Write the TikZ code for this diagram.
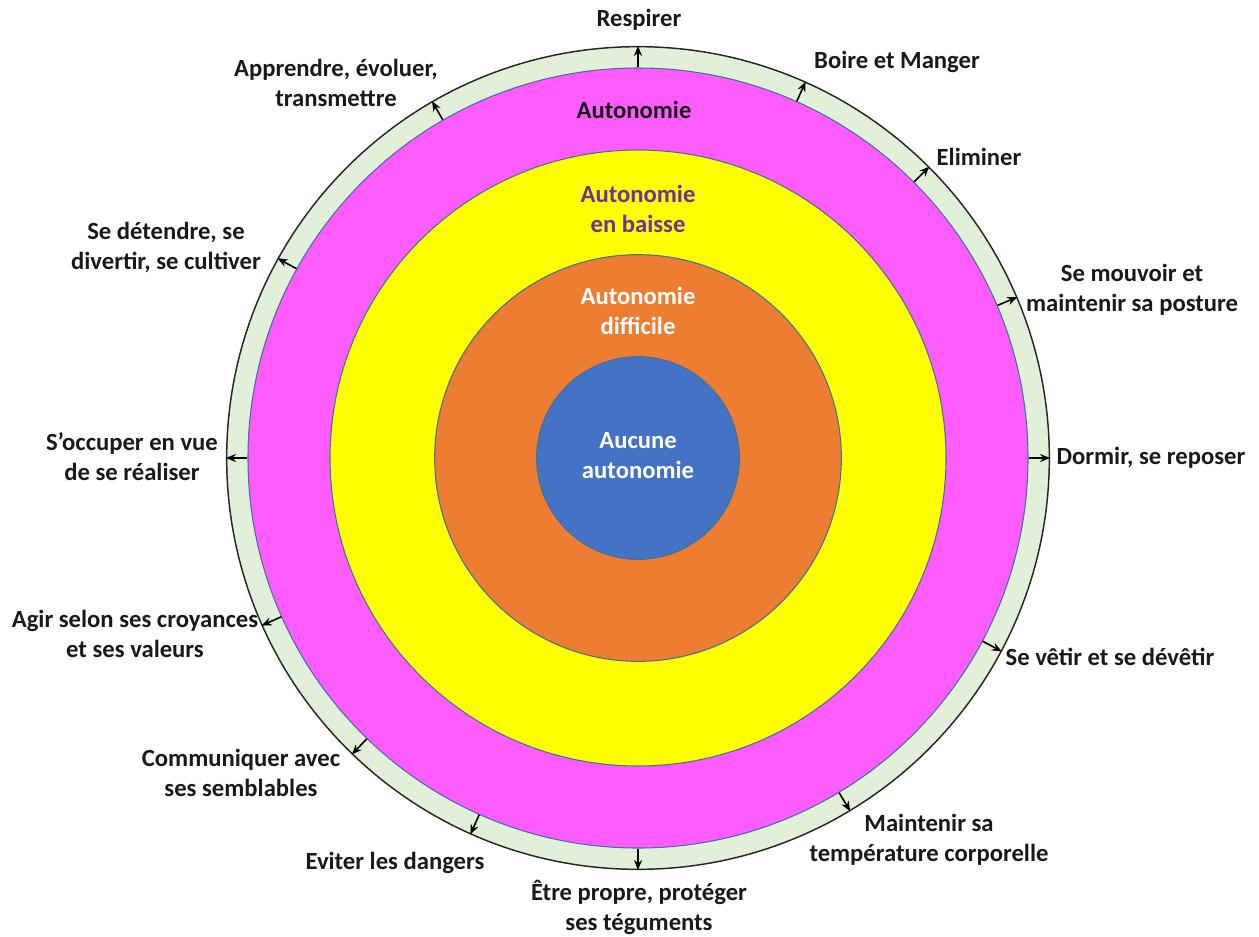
\documentclass[tikz,border=0pt]{standalone}
\usepackage{fontspec}
\setmainfont{Carlito}
\usetikzlibrary{arrows.meta}
\definecolor{ringgreen}{HTML}{E2F0D9}
\definecolor{magfill}{HTML}{FF5CFF}
\definecolor{yelfill}{HTML}{FFFF00}
\definecolor{orafill}{HTML}{ED7D31}
\definecolor{blufill}{HTML}{4472C4}
\definecolor{edgeblue}{HTML}{41719C}
\definecolor{purpletext}{HTML}{7030A0}
\begin{document}
\begin{tikzpicture}[x=0.75pt,y=-0.75pt,
  lbl/.style={font=\fontsize{18.5}{22.5}\selectfont\bfseries, align=center, text=black!90, inner sep=0pt},
  ring/.style={circle, inner sep=0pt, draw=edgeblue, line width=0.8pt},
  arr/.style={-{Stealth[length=7.5pt,width=6pt]}, line width=1.2pt, black}]
\useasboundingbox (0,0) rectangle (1259,936);
\node[ring, draw=black!85, line width=1.1pt, fill=ringgreen, minimum size=617pt] (outer) at (638,458) {};
\node[ring, fill=magfill, minimum size=585pt] (mag) at (638,458) {};
\node[ring, fill=yelfill, minimum size=462pt] (yel) at (638,458) {};
\node[ring, fill=orafill, minimum size=305pt] (ora) at (638,458) {};
\node[ring, fill=blufill, minimum size=152pt] (blu) at (638,458) {};

% inner labels
\node[lbl] (tmag) at (634,110) {Autonomie};
\node[lbl, text=purpletext] (tyel) at (638,209) {Autonomie\\en baisse};
\node[lbl, text=white] (tora) at (638,311) {Autonomie\\difficile};
\node[lbl, text=white] (tblu) at (638,456) {Aucune\\autonomie};

% arrows
\foreach \a in {90,66.5,45.8,23.5,0,-28,-59.7,-90,-114.2,-134.4,-156.3,180,151.3,120}{
  \draw[arr] (mag.\a) -- (outer.\a);
}

% outer labels
\node[lbl] (l1) at (639,20) {Respirer};
\node[lbl] (l2) at (897,62) {Boire et Manger};
\node[lbl] (l3) at (979,157) {Eliminer};
\node[lbl] (l4) at (1132,290) {Se mouvoir et\\maintenir sa posture};
\node[lbl] (l5) at (1151,458) {Dormir, se reposer};
\node[lbl] (l6) at (1110,657) {Se vêtir et se dévêtir};
\node[lbl] (l7) at (929,840) {Maintenir sa\\température corporelle};
\node[lbl] (l8) at (639,907) {Être propre, protéger\\ses téguments};
\node[lbl] (l9) at (395,863) {Eviter les dangers};
\node[lbl] (l10) at (241,773) {Communiquer avec\\ses semblables};
\node[lbl] (l11) at (135,634) {Agir selon ses croyances\\et ses valeurs};
\node[lbl] (l12) at (132,457) {S’occuper en vue\\de se réaliser};
\node[lbl] (l13) at (166,248) {Se détendre, se\\divertir, se cultiver};
\node[lbl] (l14) at (336,83) {Apprendre, évoluer,\\transmettre};
\end{tikzpicture}
\end{document}
